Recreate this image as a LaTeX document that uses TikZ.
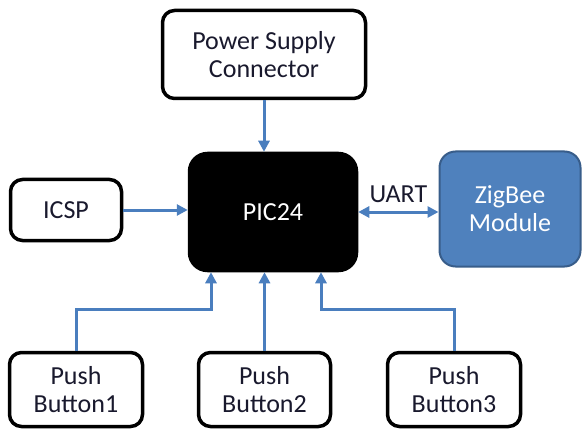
\documentclass[tikz,border=0pt]{standalone}
\usepackage{fontspec}
\setmainfont{Carlito}
\usetikzlibrary{arrows.meta}
\usetikzlibrary{positioning}
\definecolor{linkblue}{RGB}{74,126,190}
\definecolor{zbfill}{RGB}{79,129,189}
\definecolor{zbdraw}{RGB}{56,93,138}
\definecolor{txtdark}{RGB}{25,25,45}

\begin{document}
\begin{tikzpicture}[x=1pt, y=-1pt,
	every node/.style={font=\fontsize{26}{28}\selectfont, align=center, inner sep=0pt},
	blk/.style={draw=black, line width=3.5pt, rounded corners=12pt, fill=white, text=txtdark},
	link/.style={draw=linkblue, line width=3pt, -{Triangle[length=11pt,width=11pt]}}]
	\useasboundingbox (0,0) rectangle (584,433);

	\begin{scope}
		\node[blk, minimum width=203pt, minimum height=88pt] (pwr) at (264,54.5) {Power Supply\\Connector};
		\node[blk, fill=black, text=white, rounded corners=18pt, minimum width=167pt, minimum height=117pt] (pic) at (273,212) {PIC24};
		\node[blk, minimum width=111pt, minimum height=61pt] (icsp) at (66,210) {ICSP};
		\node[draw=zbdraw, line width=2pt, fill=zbfill, text=white, rounded corners=16pt, minimum width=141pt, minimum height=115pt] (zb) at (510,209) {ZigBee\\Module};
		\node[blk, minimum width=133pt, minimum height=74pt] (b1) at (76,389.5) {Push\\Button1};
		\node[blk, minimum width=132pt, minimum height=74pt] (b2) at (264.5,389.5) {Push\\Button2};
		\node[blk, minimum width=133pt, minimum height=74pt] (b3) at (454,389.5) {Push\\Button3};
	\end{scope}

	\begin{scope}
		\draw[link] (pwr.south) -- (pwr.south |- pic.north);
		\draw[link] (icsp.east) -- (icsp.east -| pic.west);
		\draw[link, {Triangle[length=11pt,width=11pt]}-{Triangle[length=11pt,width=11pt]}] (pic.east) -- (pic.east -| zb.west)
			node[midway, above=8pt, text=txtdark] (uart) {UART};
		\draw[link] (b1.north) |- ([xshift=-62pt, yshift=-37.5pt]pic.south) -- ([xshift=-62pt]pic.south);
		\draw[link] (b2.north) -- (b2.north |- pic.south);
		\draw[link] (b3.north) |- ([xshift=48pt, yshift=-37.5pt]pic.south) -- ([xshift=48pt]pic.south);
	\end{scope}
\end{tikzpicture}
\end{document}
